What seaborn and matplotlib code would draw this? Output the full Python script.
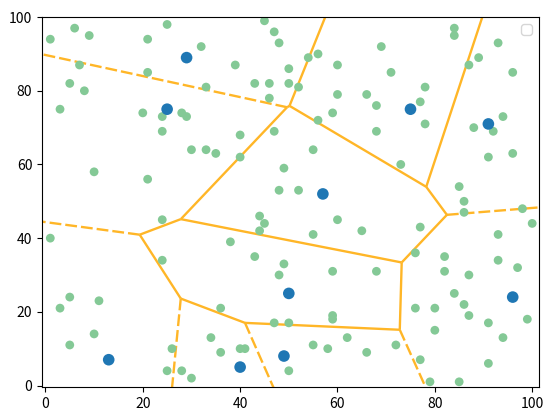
import numpy as np
import pandas as pd
import matplotlib
matplotlib.use("Agg")
import matplotlib.pyplot as plt
import matplotlib.tri as mtri
from matplotlib.collections import LineCollection
import seaborn as sns

# Voronoi sites (blue points)
site_x = [29, 25, 75, 91, 57, 50, 96, 49, 13, 40]
site_y = [89, 75, 75, 71, 52, 25, 24, 8, 7, 5]

# Sample points (green points)
sample_x = [1, 6, 9, 21, 25, 7, 21, 5, 8, 3, 20, 24, 24, 10, 21,
            45, 47, 48, 32, 39, 50, 33, 43, 46, 50, 46, 28, 29, 40, 47,
            30, 33, 35, 40, 49, 48, 69, 54, 56, 60, 71, 52, 60, 66, 68,
            77, 59, 56, 68, 55, 73, 52, 84, 84, 93, 89, 87, 96, 78, 78,
            94, 88, 92, 96, 91, 85, 86, 1, 24, 24, 5, 3, 11, 10, 5,
            26, 25, 44, 45, 44, 38, 43, 49, 48, 36, 47, 50, 34, 36, 40,
            41, 28, 30, 50, 60, 55, 65, 77, 76, 59, 68, 76, 59, 59, 62,
            55, 58, 66, 72, 77, 86, 98, 100, 93, 82, 93, 82, 87, 97, 84,
            86, 87, 80, 91, 99, 80, 94, 91, 79, 85]
sample_y = [94, 97, 95, 94, 98, 87, 85, 82, 80, 75, 74, 73, 69, 58, 56,
            99, 96, 93, 92, 87, 86, 81, 82, 82, 82, 78, 74, 73, 68, 69,
            64, 64, 63, 62, 59, 53, 92, 89, 90, 87, 85, 81, 79, 79, 76,
            77, 74, 72, 69, 64, 60, 53, 97, 95, 93, 89, 87, 85, 81, 71,
            73, 70, 69, 63, 62, 54, 50, 40, 45, 34, 24, 21, 23, 14, 11,
            10, 4, 46, 44, 42, 39, 35, 33, 30, 21, 17, 17, 13, 9, 10,
            10, 4, 2, 4, 45, 41, 42, 43, 36, 31, 31, 21, 19, 18, 13,
            11, 10, 9, 11, 7, 47, 48, 44, 41, 35, 34, 31, 30, 32, 25,
            22, 19, 21, 17, 18, 15, 13, 6, 1, 1]

sites = pd.DataFrame({"x": site_x, "y": site_y})
samples = pd.DataFrame({"x": sample_x, "y": sample_y})

# ---- Voronoi ridges from the Delaunay triangulation of the sites ----
pts = sites[["x", "y"]].to_numpy(dtype=float)
tri = mtri.Triangulation(pts[:, 0], pts[:, 1])
tris = tri.triangles


def circumcenter(a, b, c):
    d = 2 * (a[0] * (b[1] - c[1]) + b[0] * (c[1] - a[1]) + c[0] * (a[1] - b[1]))
    ux = ((a @ a) * (b[1] - c[1]) + (b @ b) * (c[1] - a[1]) + (c @ c) * (a[1] - b[1])) / d
    uy = ((a @ a) * (c[0] - b[0]) + (b @ b) * (a[0] - c[0]) + (c @ c) * (b[0] - a[0])) / d
    return np.array([ux, uy])


centers = np.array([circumcenter(*pts[t]) for t in tris])
center = pts.mean(axis=0)
ptp_bound = np.ptp(pts, axis=0)
aspect = abs(ptp_bound.max() / ptp_bound.min())

finite_segs, infinite_segs = [], []
for ti, t in enumerate(tris):
    for j in range(3):
        nb = tri.neighbors[ti, j]
        i0, i1 = t[j], t[(j + 1) % 3]
        if nb == -1:
            tv = pts[i1] - pts[i0]
            tv = tv / np.linalg.norm(tv)
            n = np.array([-tv[1], tv[0]])
            mid = pts[[i0, i1]].mean(axis=0)
            direction = np.sign(np.dot(mid - center, n)) * n
            far = centers[ti] + direction * ptp_bound.max() * aspect
            infinite_segs.append([centers[ti], far])
        elif ti < nb:
            finite_segs.append([centers[ti], centers[nb]])

# ---- Figure ----
fig = plt.figure(figsize=(5.5, 4.17), dpi=100)
ax = fig.add_axes([0.0764, 0.072, 0.9036, 0.887])

line_color = "#FFB627"
ax.add_collection(LineCollection(finite_segs, colors=line_color, linewidths=1.7,
                                 linestyles="solid", zorder=1))
ax.add_collection(LineCollection(infinite_segs, colors=line_color, linewidths=1.7,
                                 linestyles=[(0, (5.0, 1.7))], zorder=1))

sns.scatterplot(data=samples, x="x", y="y", color="#84C996", s=40,
                edgecolor="none", ax=ax, zorder=2)
sns.scatterplot(data=sites, x="x", y="y", color="#1f77b4", s=70,
                edgecolor="none", ax=ax, zorder=3)

ax.set_xlim(-0.7, 101.4)
ax.set_ylim(-0.4, 100)
ax.set_xticks([0, 20, 40, 60, 80, 100])
ax.set_yticks([0, 20, 40, 60, 80, 100])
ax.set_xlabel("")
ax.set_ylabel("")
for lab in ax.get_xticklabels() + ax.get_yticklabels():
    lab.set_fontfamily(["Noto Sans CJK SC", "DejaVu Sans"])
    lab.set_fontsize(10)
ax.legend(handles=[], loc="upper right")

fig.savefig("out.png", dpi=100)
